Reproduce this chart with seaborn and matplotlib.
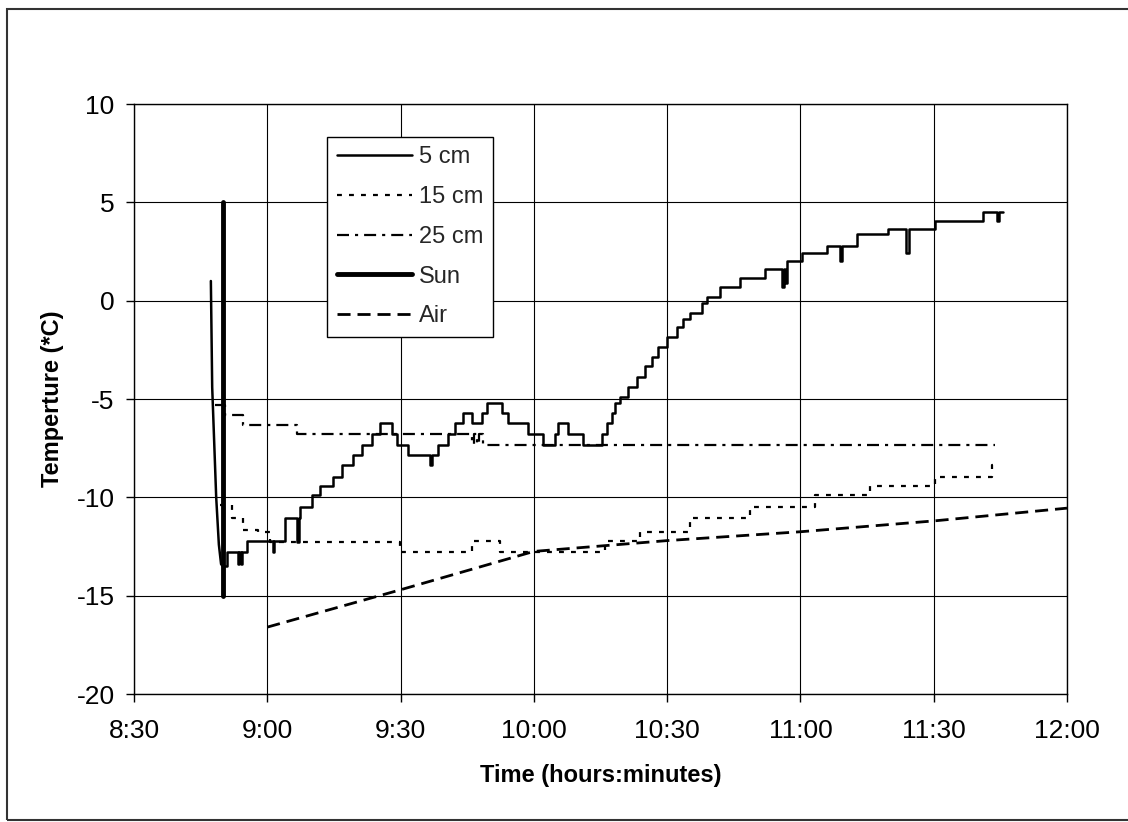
import matplotlib
matplotlib.use("Agg")
import matplotlib.pyplot as plt
import seaborn as sns
from matplotlib.patches import Rectangle

# all times are minutes after 8:30
tick_minutes = [0, 30, 60, 90, 120, 150, 180, 210]
time_labels = ["8:30", "9:00", "9:30", "10:00", "10:30", "11:00", "11:30", "12:00"]

# 5 cm probe: quick drop after it went into the snow, then the logged steps
drop_t = [17.3, 17.6, 18.5, 19.1, 19.6, 20.0]
drop_v = [1.0, -4.4, -10.0, -12.4, -13.4, -13.5]

t_5cm = [20.0, 20.9, 23.4, 23.7, 24.1, 24.4, 25.4, 31.3, 31.6, 34.0, 36.7, 37.1, 37.35,
         40.05, 41.85, 44.8, 46.8, 49.3, 51.3, 53.6, 55.4, 58.1, 59.2, 61.7, 66.6, 67.1,
         68.4, 70.7, 72.2, 74.0, 76.1, 78.3, 79.4, 82.8, 84.2, 88.7, 92.0, 94.7, 95.4,
         97.7, 101.0, 105.3, 106.4, 107.6, 108.2, 109.4, 111.2, 113.2, 115.0, 116.6,
         117.9, 120.0, 122.2, 123.5, 125.1, 127.8, 128.9, 131.9, 136.4, 142.0, 145.8,
         146.3, 146.5, 146.9, 150.3, 155.9, 158.9, 159.3, 162.7, 169.7, 173.7, 174.4,
         180.2, 191.0, 194.2, 194.6, 195.5]
v_5cm = [-13.5, -12.8, -13.4, -12.8, -13.4, -12.8, -12.2, -12.8, -12.2, -11.05, -12.25, -11.05, -10.5,
         -9.9, -9.4, -8.95, -8.35, -7.85, -7.35, -6.8, -6.2, -6.8, -7.35, -7.85, -8.35, -7.85,
         -7.35, -6.8, -6.2, -5.7, -6.2, -5.7, -5.2, -5.7, -6.2, -6.8, -7.35, -6.8, -6.2,
         -6.8, -7.35, -6.8, -6.2, -5.7, -5.2, -4.9, -4.4, -3.9, -3.3, -2.85,
         -2.35, -1.85, -1.35, -0.95, -0.63, -0.12, 0.2, 0.7, 1.15, 1.6, 0.7,
         1.6, 0.9, 2.0, 2.4, 2.8, 2.0, 2.8, 3.4, 3.65, 2.4, 3.65,
         4.05, 4.5, 4.05, 4.5, 4.5]

t_15cm = [19.4, 22.0, 24.5, 27.9, 30.6, 59.9, 76.1, 82.4, 106.0, 113.9, 125.1,
          138.6, 153.2, 165.6, 180.2, 193.1, 194.9]
v_15cm = [-10.4, -11.05, -11.65, -11.75, -12.25, -12.8, -12.2, -12.8, -12.2, -11.75, -11.05,
          -10.5, -9.9, -9.4, -8.95, -8.35, -8.35]

t_25cm = [18.2, 20.5, 24.5, 36.7, 76.1, 76.5, 77.2, 77.6, 78.5, 193.7]
v_25cm = [-5.3, -5.8, -6.3, -6.8, -7.3, -6.8, -7.3, -6.8, -7.35, -7.35]

t_sun = [20.0, 20.0]
v_sun = [5.0, -15.0]

t_air = [30, 60, 90, 120, 150, 180, 210]
v_air = [-16.6, -14.7, -12.75, -12.2, -11.75, -11.2, -10.55]

sns.set_theme(style="white")
plt.rcParams["font.family"] = ["Liberation Sans", "DejaVu Sans"]
plt.rcParams["axes.unicode_minus"] = False

fig = plt.figure(figsize=(11.28, 8.22), dpi=100)
ax = fig.add_axes([134 / 1128, 1 - 694 / 822, 933 / 1128, 590 / 822])

sns.lineplot(x=t_5cm, y=v_5cm, ax=ax, estimator=None, sort=False, drawstyle="steps-post",
             color="black", lw=1.8, label="5 cm")
sns.lineplot(x=drop_t, y=drop_v, ax=ax, estimator=None, sort=False, color="black", lw=1.8)
sns.lineplot(x=t_15cm, y=v_15cm, ax=ax, estimator=None, sort=False, drawstyle="steps-post",
             color="black", lw=1.6, linestyle=(0, (2.2, 3.2)), label="15 cm")
sns.lineplot(x=t_25cm, y=v_25cm, ax=ax, estimator=None, sort=False, drawstyle="steps-post",
             color="black", lw=1.6, linestyle=(0, (5.4, 2.7, 1.4, 2.7)), label="25 cm")
sns.lineplot(x=t_sun, y=v_sun, ax=ax, estimator=None, sort=False,
             color="black", lw=3.5, label="Sun")
sns.lineplot(x=t_air, y=v_air, ax=ax, estimator=None, sort=False,
             color="black", lw=2.0, linestyle=(0, (4.7, 2.5)), label="Air")

ax.set_xlim(0, 210)
ax.set_ylim(-20, 10)
ax.set_xticks(tick_minutes)
ax.set_xticklabels(time_labels)
ax.set_yticks([-20, -15, -10, -5, 0, 5, 10])
ax.tick_params(axis="both", direction="out", length=6, width=1, color="black",
               labelsize=19, labelcolor="black", left=True, bottom=True)
ax.tick_params(axis="y", pad=8)
ax.tick_params(axis="x", pad=12)
ax.grid(True, color="black", lw=0.8)
ax.set_axisbelow(True)
for s in ax.spines.values():
    s.set_color("black")
    s.set_linewidth(1)

ax.set_xlabel("Time (hours:minutes)", fontsize=17, fontweight="bold", color="black", labelpad=15)
ax.set_ylabel("Temperture (*C)", fontsize=17, fontweight="bold", color="black", labelpad=9)

leg = ax.legend(loc="upper left", bbox_to_anchor=(0.207, 0.944), borderaxespad=0,
                fontsize=17, frameon=True, fancybox=False, framealpha=1, edgecolor="black",
                handlelength=3.2, handletextpad=0.3, labelspacing=0.75, borderpad=0.4)
leg.get_frame().set_linewidth(1)

# outer chart border
fig.patches.append(Rectangle((7 / 1128, 2 / 822), 1.2, 811 / 822, transform=fig.transFigure,
                             fill=False, edgecolor="#333333", lw=1.5))

fig.savefig("out.png", dpi=100)
